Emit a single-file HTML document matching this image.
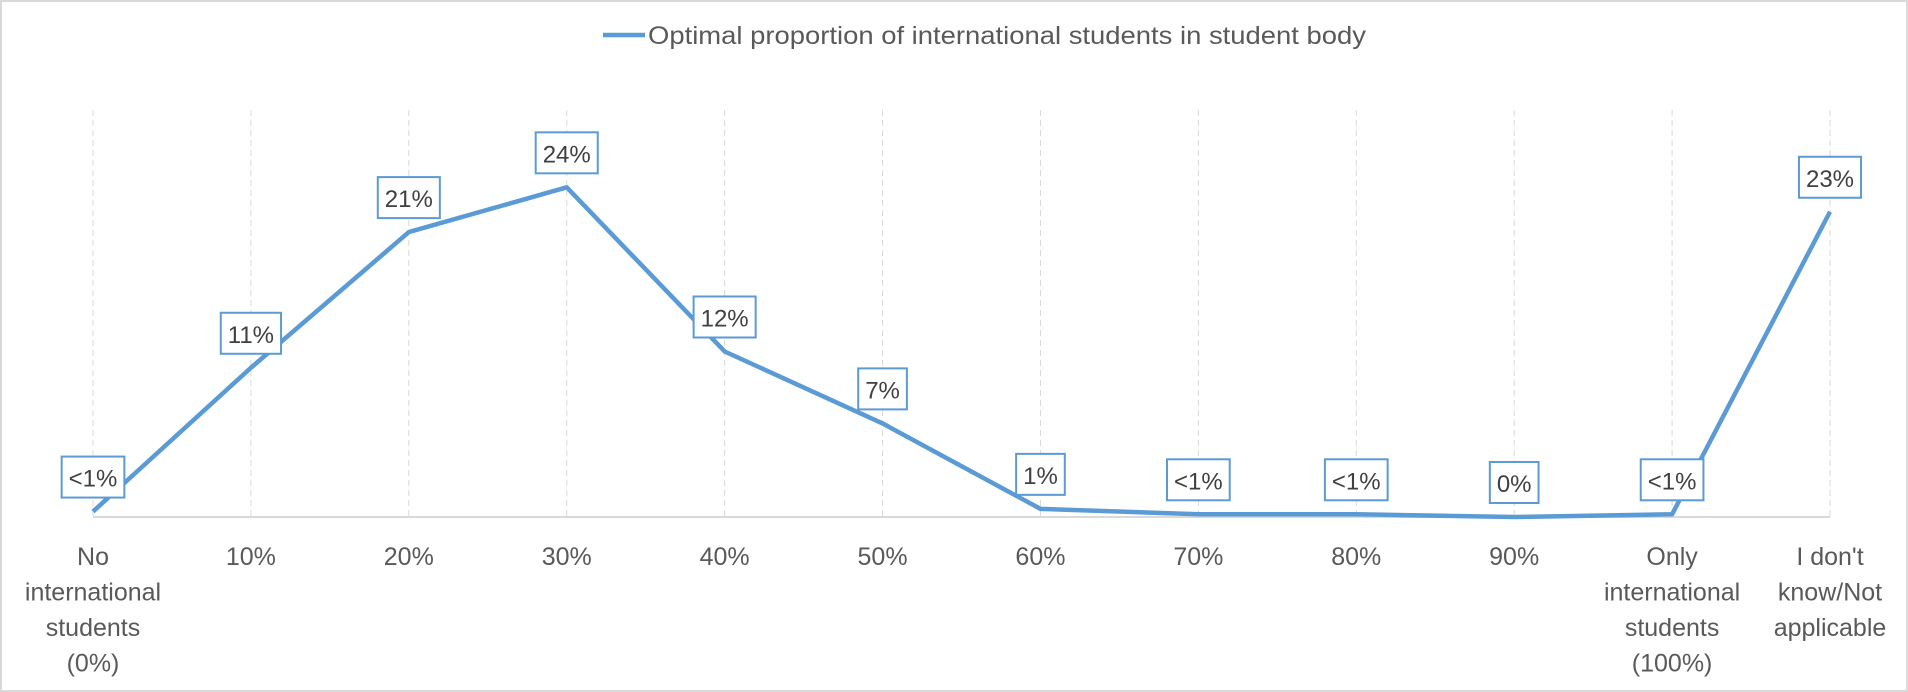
<!DOCTYPE html>
<html><head><meta charset="utf-8"><style>
html,body{margin:0;padding:0;background:#fff}
svg{display:block;font-family:"Liberation Sans",sans-serif}
</style></head><body>
<svg id="chart" width="1908" height="692" viewBox="0 0 1908 692">
<rect x="1" y="1" width="1906" height="690" fill="#fff" stroke="#d9d9d9" stroke-width="2"/>
<g>
<line x1="603" y1="35" x2="645" y2="35" stroke="#5b9bd5" stroke-width="4.5"/>
<text x="648" y="44" font-size="25" fill="#595959" textLength="718" lengthAdjust="spacingAndGlyphs">Optimal proportion of international students in student body</text>
</g>
<g id="grid"></g>
<line x1="93" y1="517" x2="1830" y2="517" stroke="#d9d9d9" stroke-width="2"/>
<g id="xlabels"></g>
<polyline id="series" fill="none" stroke="#5b9bd5" stroke-width="4.5" stroke-linejoin="round"/>
<g id="labels"></g>
</svg>
<script>
const categories = [["No","international","students","(0%)"],["10%"],["20%"],["30%"],["40%"],["50%"],["60%"],["70%"],["80%"],["90%"],["Only","international","students","(100%)"],["I don't","know/Not","applicable"]];
const values = [0.4, 11, 21, 24.3, 12.2, 6.9, 0.6, 0.2, 0.2, 0, 0.2, 22.5];
const valueLabels = ["<1%","11%","21%","24%","12%","7%","1%","<1%","<1%","0%","<1%","23%"];
const yMax = 30;
const NS = "http://www.w3.org/2000/svg";
const x0 = 93, x1 = 1830, yBase = 517, yTop = 110;
function xPos(i){ return x0 + i*(x1-x0)/(categories.length-1); }
function yPos(v){ return yBase - v/yMax*(yBase-yTop); }
const grid = document.getElementById('grid');
const xl = document.getElementById('xlabels');
categories.forEach((c,i)=>{
  const l = document.createElementNS(NS,'line');
  l.setAttribute('x1',xPos(i)); l.setAttribute('x2',xPos(i));
  l.setAttribute('y1',yTop); l.setAttribute('y2',yBase);
  l.setAttribute('stroke','#d9d9d9'); l.setAttribute('stroke-dasharray','6,4'); l.setAttribute('stroke-width','1');
  
  
  grid.appendChild(l);
  const t = document.createElementNS(NS,'text');
  t.setAttribute('text-anchor','middle'); t.setAttribute('font-size','25'); t.setAttribute('fill','#595959');
  
  
  c.forEach((line,j)=>{
    const s = document.createElementNS(NS,'tspan');
    s.setAttribute('x',xPos(i)); s.setAttribute('y',565+j*35.5);
    s.textContent = line;
    t.appendChild(s);
  });
  xl.appendChild(t);
});
document.getElementById('series').setAttribute('points', values.map((v,i)=>xPos(i)+','+yPos(v)).join(' '));
const lg = document.getElementById('labels');
values.forEach((v,i)=>{
  const g = document.createElementNS(NS,'g');
  
  
  const t = document.createElementNS(NS,'text');
  t.setAttribute('x',xPos(i)); t.setAttribute('y',yPos(v)-25);
  t.setAttribute('text-anchor','middle'); t.setAttribute('font-size','24'); t.setAttribute('fill','#404040');
  t.textContent = valueLabels[i];
  const r = document.createElementNS(NS,'rect');
  g.appendChild(r); g.appendChild(t); lg.appendChild(g);
  const w = t.getComputedTextLength()+14;
  r.setAttribute('x',xPos(i)-w/2); r.setAttribute('y',yPos(v)-55);
  r.setAttribute('width',w); r.setAttribute('height',41);
  r.setAttribute('fill','#fff'); r.setAttribute('stroke','#5b9bd5'); r.setAttribute('stroke-width','2');
});
</script>
</body></html>
